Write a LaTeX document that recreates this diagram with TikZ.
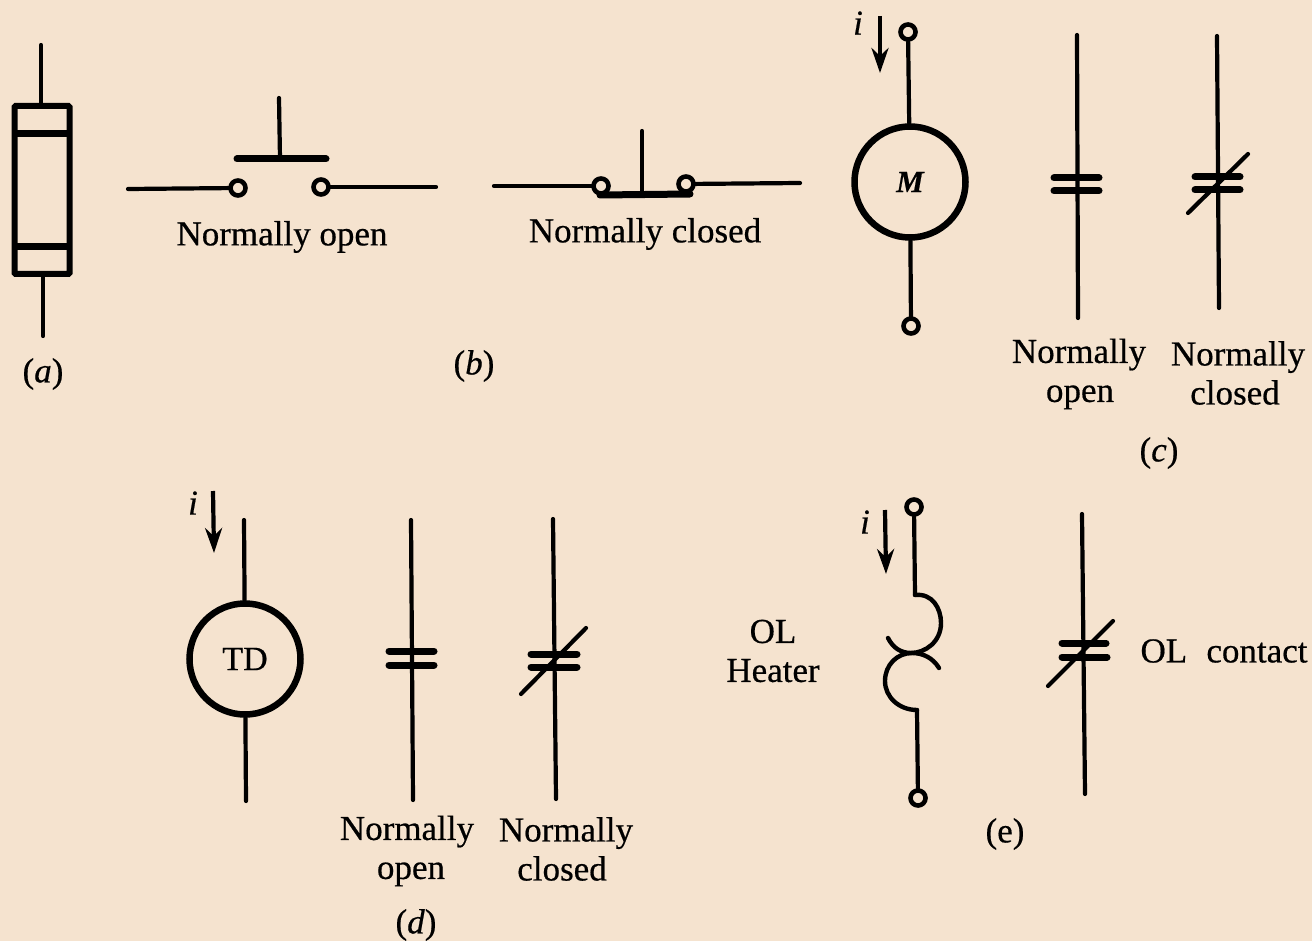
\documentclass[tikz,border=0pt]{standalone}
\usepackage{fontspec}
\setmainfont[FakeBold=0.5]{Liberation Serif}
\usetikzlibrary{arrows.meta}
\definecolor{paper}{HTML}{F5E3CF}
\newcommand{\lblfont}{\fontsize{35}{39}\selectfont}
\tikzset{
  x=1pt,y=-1pt,
  lead/.style={draw=black,line width=4.2pt,line cap=round},
  bar/.style={draw=black,line width=7pt,line cap=round},
  term/.style={circle,draw=black,line width=4.6pt,fill=paper,minimum size=15pt,inner sep=0pt},
  coil/.style={circle,draw=black,line width=6.5pt,minimum size=111pt,inner sep=0pt},
  lbl/.style={font=\lblfont,align=center,inner sep=0pt,text=black},
  cur/.style={draw=black,line width=4.2pt,-{Stealth[length=25pt,width=17pt]}},
}
\begin{document}
\begin{tikzpicture}
\useasboundingbox (0,0) rectangle (1312,941);
\fill[paper] (0,0) rectangle (1312,941);

% (a) fuse
\node[draw=black,line width=6pt,minimum width=55pt,minimum height=168pt,inner sep=0pt,rounded corners=1pt] (fuse) at (42,190) {};
\coordinate (fa1) at (41,45);
\coordinate (fa2) at (43,336);
\draw[lead] (fa1) -- (fuse.north -| fa1);
\draw[lead] (fuse.south -| fa2) -- (fa2);
\coordinate (fb1) at (14,134); \coordinate (fb2) at (70,134);
\coordinate (fc1) at (15,247); \coordinate (fc2) at (71,247);
\draw[draw=black,line width=7pt] (fb1) -- (fb2);
\draw[draw=black,line width=7pt] (fc1) -- (fc2);
\node[lbl] (la) at (43,374) {(\textit{a})};

% (b) normally open
\node[term] (no1) at (238,188) {};
\node[term] (no2) at (321,187) {};
\coordinate (no1e) at (128,189);
\coordinate (no2e) at (436,187);
\draw[lead] (no1e) -- (no1);
\draw[lead] (no2) -- (no2e);
\coordinate (nob1) at (237,159); \coordinate (nob2) at (326,159);
\coordinate (nos1) at (279,98); \coordinate (nos2) at (280,159);
\draw[bar] (nob1) -- (nob2);
\draw[lead] (nos1) -- (nos2);
\node[lbl] (ln1) at (282,237) {Normally open};

% (b) normally closed
\coordinate (ncb1) at (600,195); \coordinate (ncb2) at (690,194);
\draw[bar] (ncb1) -- (ncb2);
\node[term] (nc1) at (601,186) {};
\node[term] (nc2) at (686,184) {};
\coordinate (nc1e) at (494,186);
\coordinate (nc2e) at (800,183);
\draw[lead] (nc1e) -- (nc1);
\draw[lead] (nc2) -- (nc2e);
\coordinate (ncs1) at (642,131); \coordinate (ncs2) at (642,195);
\draw[lead] (ncs1) -- (ncs2);
\node[lbl] (ln2) at (645,234) {Normally closed};
\node[lbl] (lb) at (474,366) {(\textit{b})};

% (c) motor
\node[coil] (m) at (910,182) {\fontsize{31}{34}\selectfont\bfseries\itshape M};
\node[term] (mt1) at (908,32) {};
\node[term] (mt2) at (911,326) {};
\draw[lead] (mt1) -- (m);
\draw[lead] (m) -- (mt2);
\node[lbl] (mi) at (858,23) {\textit{i}};
\coordinate (ma1) at (880,16); \coordinate (ma2) at (880,73);
\draw[cur] (ma1) -- (ma2);

% (c) contacts
\coordinate (c1a) at (1077,35); \coordinate (c1b) at (1078,318);
\draw[lead] (c1a) -- (c1b);
\coordinate (c1l) at (1054,178); \coordinate (c1r) at (1099,178);
\coordinate (c1m) at (1054,191); \coordinate (c1n) at (1099,191);
\draw[bar] (c1l) -- (c1r); \draw[bar] (c1m) -- (c1n);
\coordinate (c2a) at (1217,36); \coordinate (c2b) at (1219,308);
\draw[lead] (c2a) -- (c2b);
\coordinate (c2l) at (1195,177); \coordinate (c2r) at (1240,177);
\coordinate (c2m) at (1195,190); \coordinate (c2n) at (1240,190);
\draw[bar] (c2l) -- (c2r); \draw[bar] (c2m) -- (c2n);
\coordinate (c2d1) at (1188,213); \coordinate (c2d2) at (1248,154);
\draw[lead] (c2d1) -- (c2d2);
\node[lbl] (ln3) at (1079,374) {Normally\\\hspace{2pt}open};
\node[lbl] (ln4) at (1238,373) {Normally\\\hspace*{-6pt}closed};
\node[lbl] (lc) at (1159,453) {(\textit{c})};

% (d) time delay
\node[coil] (td) at (245,659) {\fontsize{34}{38}\selectfont TD};
\coordinate (tda) at (244,520); \coordinate (tdb) at (246,801);
\draw[lead] (tda) -- (td);
\draw[lead] (td) -- (tdb);
\node[lbl] (ti) at (193,503) {\textit{i}};
\coordinate (ta1) at (213,491); \coordinate (ta2) at (214,553);
\draw[cur] (ta1) -- (ta2);
\coordinate (d1a) at (411,520); \coordinate (d1b) at (413,800);
\draw[lead] (d1a) -- (d1b);
\coordinate (d1l) at (389,651); \coordinate (d1r) at (434,651);
\coordinate (d1m) at (389,665); \coordinate (d1n) at (434,665);
\draw[bar] (d1l) -- (d1r); \draw[bar] (d1m) -- (d1n);
\coordinate (d2a) at (553,519); \coordinate (d2b) at (556,799);
\draw[lead] (d2a) -- (d2b);
\coordinate (d2l) at (531,654); \coordinate (d2r) at (577,654);
\coordinate (d2m) at (531,667); \coordinate (d2n) at (577,667);
\draw[bar] (d2l) -- (d2r); \draw[bar] (d2m) -- (d2n);
\coordinate (d2d1) at (521,694); \coordinate (d2d2) at (586,628);
\draw[lead] (d2d1) -- (d2d2);
\node[lbl] (ln5) at (407,851) {Normally\\\hspace*{8pt}open};
\node[lbl] (ln6) at (566,849) {Normally\\\hspace*{-8pt}closed};
\node[lbl] (ld) at (416,925) {(\textit{d})};

% (e) overload heater
\node[term] (et1) at (914,507) {};
\node[term] (et2) at (918,798) {};
\coordinate (eh1) at (915,595);
\coordinate (eh2) at (917,710);
\draw[lead] (et1) -- (eh1);
\draw[lead] (eh2) -- (et2);
\draw[draw=black,line width=4.4pt,line cap=round]
  (eh1) .. controls (932,593) and (941,608) .. (941,623)
  .. controls (941,642) and (925,653) .. (911,653)
  .. controls (901,653) and (893,648) .. (888,638);
\draw[draw=black,line width=4.4pt,line cap=round]
  (939,668) .. controls (933,658) and (923,653) .. (912,653)
  .. controls (897,653) and (885,665) .. (885,681)
  .. controls (885,697) and (899,710) .. (917,710);
\node[lbl] (ei) at (865,522) {\textit{i}};
\coordinate (ea1) at (885,510); \coordinate (ea2) at (886,574);
\draw[cur] (ea1) -- (ea2);
\node[lbl] (lh) at (773,651) {OL\\Heater};
\coordinate (e2a) at (1082,514); \coordinate (e2b) at (1085,794);
\draw[lead] (e2a) -- (e2b);
\coordinate (e2l) at (1062,643); \coordinate (e2r) at (1106,643);
\coordinate (e2m) at (1062,657); \coordinate (e2n) at (1107,657);
\draw[bar] (e2l) -- (e2r); \draw[bar] (e2m) -- (e2n);
\coordinate (e2d1) at (1048,686); \coordinate (e2d2) at (1113,621);
\draw[lead] (e2d1) -- (e2d2);
\node[lbl] (lo) at (1224,651) {OL\hspace{0.55em}contact};
\node[lbl] (le) at (1005,834) {(e)};
\end{tikzpicture}
\end{document}
